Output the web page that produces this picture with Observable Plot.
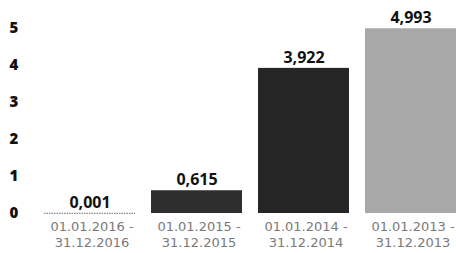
<!DOCTYPE html>
<html>
<head>
<meta charset="utf-8">
<script src="https://cdn.jsdelivr.net/npm/d3@7"></script>
<script src="https://cdn.jsdelivr.net/npm/@observablehq/plot@0.6"></script>
<style>
  html, body { margin: 0; padding: 0; background: #fff; }
  #chart { width: 456px; height: 253px; overflow: hidden; }
</style>
</head>
<body>
<div id="chart"></div>
<script>
const periods = ["01.01.2016 -\n31.12.2016", "01.01.2015 -\n31.12.2015", "01.01.2014 -\n31.12.2014", "01.01.2013 -\n31.12.2013"];
const values = [0.001, 0.615, 3.922, 4.993];
const valueLabels = ["0,001", "0,615", "3,922", "4,993"];
const barColors = ["#9a9a9a", "#2e2e2e", "#262626", "#a8a8a8"];
const yTicks = [0, 1, 2, 3, 4, 5];

const data = periods.map((p, i) => ({period: p, value: values[i], label: valueLabels[i], color: barColors[i]}));

const chart = Plot.plot({
  width: 456,
  height: 253,
  marginLeft: 44,
  marginRight: 0,
  marginTop: 28,
  marginBottom: 40,
  style: {background: "#fff", fontFamily: "'Open Sans', sans-serif"},
  x: {domain: periods, paddingInner: 0.15, paddingOuter: 0, label: null},
  y: {domain: [0, 5], label: null},
  marks: [
    Plot.barY(data, {x: "period", y: "value", fill: "color"}),
    Plot.tickY(data.filter(d => d.value < 0.01), {x: "period", y: "value", stroke: "#8a8a8a", strokeWidth: 1.2, strokeDasharray: "1.5,1"}),
    Plot.text(data, {x: "period", y: "value", text: "label", dy: -11, fontSize: 16, fontWeight: "bold", fill: "#111", fontFamily: "'Open Sans', sans-serif"}),
    Plot.axisY({ticks: yTicks, tickSize: 0, tickFormat: d => String(d), fontSize: 15, fontWeight: 800, fill: "#111", textAnchor: "start", dx: -26, fontFamily: "'Open Sans', sans-serif"}),
    Plot.axisX({tickSize: 0, tickPadding: 5, fontSize: 13, fill: "#7a7a7a", lineHeight: 1.3, dx: 2, fontFamily: "'DejaVu Sans', sans-serif"})
  ]
});
document.getElementById("chart").appendChild(chart);
</script>
</body>
</html>
